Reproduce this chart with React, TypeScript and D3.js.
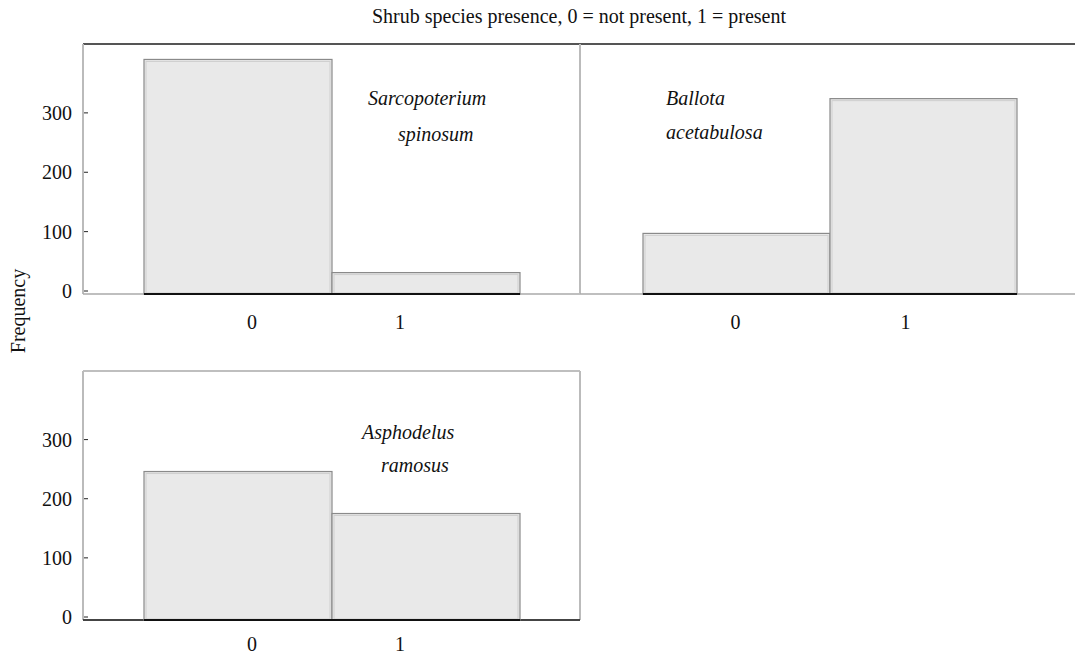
import React from 'react'
import * as d3 from 'd3'

const categories = ['0', '1']
const sarcopoterium = [390, 31]
const ballota = [97, 324]
const asphodelus = [246, 175]
const yTicks = [0, 100, 200, 300]
const title = 'Shrub species presence, 0 = not present, 1 = present'

const panels = [
  { name: ['Sarcopoterium', 'spinosum'], values: sarcopoterium, left: 83, right: 580, top: 44, bottom: 291, barX: [144, 520], labelShift: [14, -26], labelDy: 35, nameX: [368, 398], nameY: [105, 141], yLabels: true, ticks: true, frame: 'top' },
  { name: ['Ballota', 'acetabulosa'], values: ballota, left: 580, right: 1075, top: 44, bottom: 291, barX: [643, 1017], labelShift: [-1, -18], labelDy: 35, nameX: [666, 666], nameY: [105, 139], yLabels: false, ticks: false, frame: 'top' },
  { name: ['Asphodelus', 'ramosus'], values: asphodelus, left: 83, right: 580, top: 371, bottom: 617, barX: [144, 520], labelShift: [14, -26], labelDy: 31, nameX: [362, 381], nameY: [439, 472], yLabels: true, ticks: true, frame: 'box' },
]

const font = '"Liberation Serif", "DejaVu Serif", serif'

function Panel({ p }) {
  const y = d3.scaleLinear().domain([0, 416]).range([p.bottom, p.top])
  const x = d3.scaleBand().domain(categories).range(p.barX).paddingInner(0)
  const base = y(0) + 3
  return (
    <g>
      {/* frame */}
      <line x1={p.left} x2={p.right} y1={p.top} y2={p.top} stroke={p.frame === 'top' ? '#555' : '#aaa'} strokeWidth={p.frame === 'top' ? 2 : 1.5} />
      {p.frame === 'box' && <line x1={p.right} x2={p.right} y1={p.top} y2={base} stroke="#bbb" strokeWidth={2} />}
      <line x1={p.left} x2={p.left} y1={p.top} y2={base} stroke="#bbb" strokeWidth={2} />
      <line x1={p.left} x2={p.right} y1={base} y2={base} stroke={p.frame === 'box' ? '#444' : '#aaa'} strokeWidth={p.frame === 'box' ? 2 : 1.5} />
      {yTicks.map(t => (
        <g key={t}>
          {p.ticks && <line x1={p.left + 1} x2={p.left + 5} y1={y(t)} y2={y(t)} stroke="#222" strokeWidth={1} />}
          {p.yLabels && (
            <text x={p.left - 11} y={y(t)} dy="0.35em" textAnchor="end" fontFamily={font} fontSize={20} fill="#111">{t}</text>
          )}
        </g>
      ))}
      {categories.map((c, i) => (
        <g key={c}>
          <rect x={x(c)} y={y(p.values[i])} width={x.bandwidth()} height={base - y(p.values[i])} fill="#e9e9e9" stroke="#8a8a8a" strokeWidth={1.2} />
          <rect x={x(c) + 2} y={y(p.values[i]) + 2} width={x.bandwidth() - 4} height={base - y(p.values[i]) - 3} fill="none" stroke="#cfcfcf" strokeWidth={1} />
          <text x={x(c) + x.bandwidth() / 2 + p.labelShift[i]} y={base + p.labelDy} textAnchor="middle" fontFamily={font} fontSize={20} fill="#111">{c}</text>
        </g>
      ))}
      <line x1={p.barX[0]} x2={p.barX[1]} y1={base} y2={base} stroke="#111" strokeWidth={2} />
      <text x={p.nameX[0]} y={p.nameY[0]} fontFamily={font} fontStyle="italic" fontSize={20} fill="#111">{p.name[0]}</text>
      <text x={p.nameX[1]} y={p.nameY[1]} fontFamily={font} fontStyle="italic" fontSize={20} fill="#111">{p.name[1]}</text>
    </g>
  )
}

export default function App() {
  return (
    <svg width={1075} height={656} style={{ position: 'absolute', left: 0, top: 0, background: '#fff' }}>
      <rect width={1075} height={656} fill="#fff" />
      <text x={579} y={23} textAnchor="middle" fontFamily={font} fontSize={20} fill="#111">{title}</text>
      <text transform="translate(18,311) rotate(-90)" textAnchor="middle" dy="0.35em" fontFamily={font} fontSize={20} fill="#111">Frequency</text>
      {panels.map((p, i) => <Panel key={i} p={p} />)}
    </svg>
  )
}
